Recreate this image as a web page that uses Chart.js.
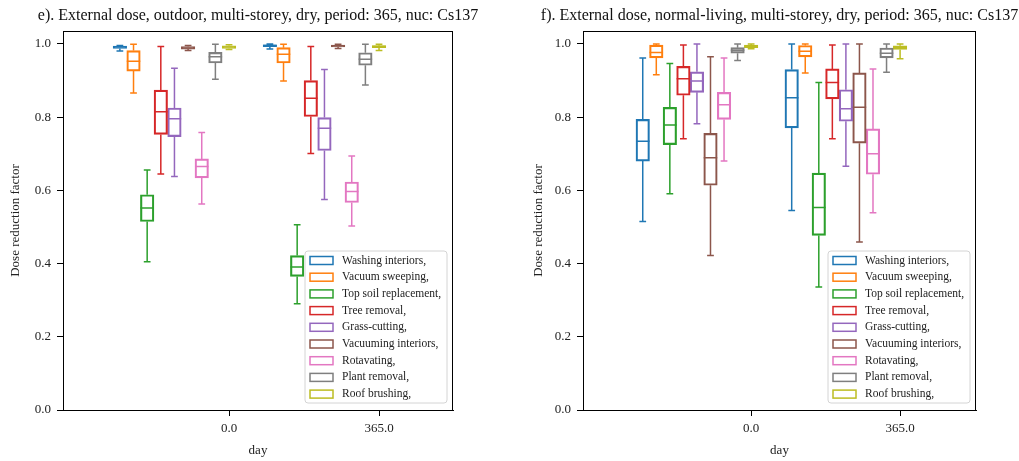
<!DOCTYPE html>
<html>
<head>
<meta charset="utf-8">
<script src="https://cdn.jsdelivr.net/npm/chart.js@4.4.1/dist/chart.umd.min.js"></script>
<style>
  body { margin: 0; background: #fff; }
  .wrap { display: flex; width: 1019px; height: 461px; }
</style>
</head>
<body>
<div class="wrap">
  <canvas id="outdoor" width="510" height="461"></canvas>
  <canvas id="living" width="509" height="461"></canvas>
</div>
<script>
/* DATA */
const days = [0, 365];
const xTicks = [0, 365];
const yTicks = [0, 0.2, 0.4, 0.6, 0.8, 1.0];
const treatments = [
  "Washing interiors,", "Vacuum sweeping,", "Top soil replacement,", "Tree removal,",
  "Grass-cutting,", "Vacuuming interiors,", "Rotavating,", "Plant removal,", "Roof brushing,"
];
const colors = ["#1f77b4", "#ff7f0e", "#2ca02c", "#d62728", "#9467bd", "#8c564b", "#e377c2", "#7f7f7f", "#bcbd22"];

// e) outdoor, each row = [day 0, day 365]
const outdoorMin = [[0.981, 0.986], [0.866, 0.899], [0.405, 0.290], [0.645, 0.701], [0.638, 0.575], [0.982, 0.988], [0.563, 0.503], [0.904, 0.888], [0.985, 0.982]];
const outdoorQ1  = [[0.988, 0.993], [0.926, 0.948], [0.515, 0.365], [0.753, 0.802], [0.747, 0.709], [0.986, 0.992], [0.634, 0.567], [0.948, 0.942], [0.988, 0.990]];
const outdoorMed = [[0.992, 0.996], [0.953, 0.972], [0.552, 0.391], [0.815, 0.852], [0.796, 0.770], [0.989, 0.995], [0.665, 0.597], [0.965, 0.958], [0.992, 0.993]];
const outdoorQ3  = [[0.994, 0.998], [0.982, 0.990], [0.588, 0.422], [0.874, 0.900], [0.825, 0.799], [0.993, 0.997], [0.686, 0.623], [0.977, 0.976], [0.995, 0.996]];
const outdoorMax = [[0.996, 1.000], [0.999, 0.999], [0.656, 0.506], [0.993, 0.993], [0.934, 0.930], [0.996, 0.999], [0.758, 0.694], [0.999, 0.999], [0.998, 0.999]];

// f) normal-living
const livingMin = [[0.515, 0.545], [0.916, 0.921], [0.591, 0.336], [0.741, 0.741], [0.782, 0.666], [0.422, 0.459], [0.680, 0.539], [0.955, 0.923], [0.987, 0.960]];
const livingQ1  = [[0.680, 0.771], [0.962, 0.965], [0.725, 0.477], [0.860, 0.850], [0.868, 0.789], [0.614, 0.729], [0.794, 0.644], [0.975, 0.962], [0.990, 0.985]];
const livingMed = [[0.734, 0.853], [0.977, 0.980], [0.779, 0.553], [0.905, 0.895], [0.899, 0.823], [0.689, 0.827], [0.834, 0.700], [0.983, 0.975], [0.993, 0.990]];
const livingQ3  = [[0.794, 0.930], [0.997, 0.996], [0.827, 0.647], [0.939, 0.932], [0.924, 0.875], [0.756, 0.921], [0.868, 0.768], [0.990, 0.989], [0.997, 0.995]];
const livingMax = [[0.962, 1.000], [1.000, 1.000], [0.947, 0.895], [0.997, 0.997], [1.000, 1.000], [0.965, 1.000], [0.962, 0.932], [1.000, 1.000], [1.000, 1.000]];

const slot = 33.2; // day offset between neighbouring boxes in a group

Chart.defaults.font.family = "'Liberation Serif', 'DejaVu Serif', serif";
Chart.defaults.color = "#222";

/* BOX PLOT EXTRAS: whiskers, medians, frame, title, legend */
const boxExtras = {
  id: "boxExtras",
  afterDatasetsDraw(chart) {
    const { ctx } = chart;
    const y = chart.scales.y;
    ctx.save();
    ctx.lineWidth = 1.5;
    chart.data.datasets.forEach((ds, i) => {
      chart.getDatasetMeta(i).data.forEach((bar, k) => {
        const p = ds.data[k];
        const half = bar.width / 2;
        const cx = bar.x;
        const top = y.getPixelForValue(p.y[1]);
        const bot = y.getPixelForValue(p.y[0]);
        const yMed = y.getPixelForValue(p.med);
        const yMax = y.getPixelForValue(p.max);
        const yMin = y.getPixelForValue(p.min);
        ctx.strokeStyle = ds.borderColor;
        ctx.beginPath();
        ctx.moveTo(cx - half, yMed); ctx.lineTo(cx + half, yMed);
        ctx.moveTo(cx, top); ctx.lineTo(cx, yMax);
        ctx.moveTo(cx - half / 2, yMax); ctx.lineTo(cx + half / 2, yMax);
        ctx.moveTo(cx, bot); ctx.lineTo(cx, yMin);
        ctx.moveTo(cx - half / 2, yMin); ctx.lineTo(cx + half / 2, yMin);
        ctx.stroke();
      });
    });
    ctx.restore();
  },
  afterDraw(chart, args, opts) {
    const { ctx, chartArea: a } = chart;
    ctx.save();
    // frame
    ctx.strokeStyle = "#000";
    ctx.lineWidth = 1;
    ctx.strokeRect(a.left + 0.5, a.top + 0.5, a.right - a.left - 1, a.bottom - a.top);
    // title
    ctx.fillStyle = "#111";
    ctx.font = "16px 'Liberation Serif', serif";
    ctx.textAlign = "center";
    ctx.textBaseline = "alphabetic";
    ctx.fillText(opts.title, (a.left + a.right) / 2, 20);
    // legend
    const w = 142, h = 152, rowH = 16.7;
    const lx = a.right - 6 - w, ly = a.bottom - 7 - h;
    ctx.beginPath();
    ctx.roundRect(lx, ly, w, h, 3);
    ctx.fillStyle = "rgba(255,255,255,0.8)";
    ctx.fill();
    ctx.strokeStyle = "#d4d4d4";
    ctx.stroke();
    ctx.font = "11.5px 'Liberation Serif', serif";
    ctx.textAlign = "left";
    ctx.textBaseline = "middle";
    chart.data.datasets.forEach((ds, i) => {
      const cy = ly + 9.5 + i * rowH;
      ctx.strokeStyle = ds.borderColor;
      ctx.lineWidth = 1.5;
      ctx.strokeRect(lx + 5, cy - 4, 23, 8);
      ctx.fillStyle = "#222";
      ctx.fillText(ds.label, lx + 37, cy);
    });
    ctx.restore();
  }
};

/* PANEL */
function buildPanel(id, title, mins, q1s, meds, q3s, maxs, xMin, xMax, padLeft, padRight, yWidth) {
  const datasets = treatments.map((name, i) => ({
    label: name,
    data: days.map((d, k) => ({
      x: d + (i - 8) * slot,
      y: [q1s[i][k], q3s[i][k]],
      min: mins[i][k], med: meds[i][k], max: maxs[i][k]
    })),
    borderColor: colors[i],
    backgroundColor: "rgba(0,0,0,0)",
    borderWidth: 1.5,
    borderSkipped: false,
    barThickness: 13.5,
    grouped: false
  }));

  new Chart(document.getElementById(id), {
    type: "bar",
    data: { datasets },
    options: {
      responsive: false,
      animation: false,
      devicePixelRatio: 1,
      layout: { padding: { top: 31, left: padLeft, right: padRight, bottom: 0 } },
      plugins: {
        legend: { display: false },
        tooltip: { enabled: false },
        boxExtras: { title }
      },
      scales: {
        x: {
          type: "linear",
          min: xMin, max: xMax,
          offset: false,
          grid: { display: true, drawOnChartArea: false, drawTicks: true, tickLength: 6, tickColor: "#000", offset: false },
          border: { display: true, color: "#000", width: 1 },
          afterBuildTicks: s => { s.ticks = xTicks.map(v => ({ value: v })); },
          afterFit: s => { s.height = 51; },
          ticks: { callback: v => v.toFixed(1), padding: 5, font: { size: 13 }, maxRotation: 0 },
          title: { display: true, text: "day", font: { size: 13 }, padding: { top: 0, bottom: 3 } }
        },
        y: {
          min: 0, max: 1.0355,
          grid: { display: true, drawOnChartArea: false, drawTicks: true, tickLength: 6, tickColor: "#000" },
          border: { display: true, color: "#000", width: 1 },
          afterBuildTicks: s => { s.ticks = yTicks.map(v => ({ value: v })); },
          afterFit: s => { s.width = yWidth; },
          ticks: { callback: v => v.toFixed(1), padding: 6, font: { size: 13 } },
          title: { display: true, text: "Dose reduction factor", font: { size: 13 }, padding: { top: 8, bottom: 0 } }
        }
      }
    },
    plugins: [boxExtras]
  });
}

buildPanel("outdoor", "e). External dose, outdoor, multi-storey, dry, period: 365, nuc: Cs137",
  outdoorMin, outdoorQ1, outdoorMed, outdoorQ3, outdoorMax, -404, 545, 0, 57, 63);
buildPanel("living", "f). External dose, normal-living, multi-storey, dry, period: 365, nuc: Cs137",
  livingMin, livingQ1, livingMed, livingQ3, livingMax, -412, 551, 13, 43, 60);
</script>
</body>
</html>
